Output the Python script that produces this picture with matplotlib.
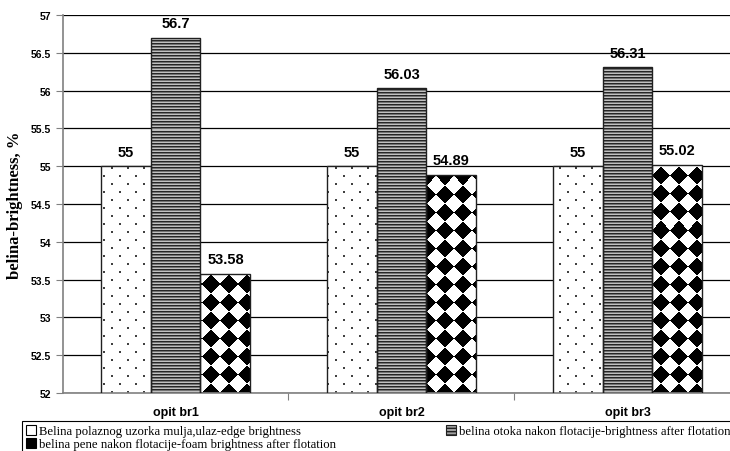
import numpy as np
import matplotlib
matplotlib.use("Agg")
import matplotlib.pyplot as plt
from matplotlib.patches import Patch

# data
categories = ["opit br1", "opit br2", "opit br3"]
belina_ulaz = [55, 55, 55]
belina_otoka = [56.7, 56.03, 56.31]
belina_pene = [53.58, 54.89, 55.02]
value_labels = [["55", "55", "55"],
                ["56.7", "56.03", "56.31"],
                ["53.58", "54.89", "55.02"]]
series_names = ["Belina polaznog uzorka mulja,ulaz-edge brightness",
                "belina otoka nakon flotacije-brightness after flotation",
                "belina pene nakon flotacije-foam brightness after flotation"]
yticks = [52, 52.5, 53, 53.5, 54, 54.5, 55, 55.5, 56, 56.5, 57]
ytick_labels = ["52", "52.5", "53", "53.5", "54", "54.5", "55", "55.5", "56", "56.5", "57"]

sans = "Liberation Sans"
serif = "Liberation Serif"

W, H = 730, 452
fig = plt.figure(figsize=(W / 100, H / 100), dpi=100)
ax_l, ax_b = 62.5, 58
ax_w, ax_h = 678, 378
ax = fig.add_axes([ax_l / W, ax_b / H, ax_w / W, ax_h / H])

ax.set_xlim(-0.5, 2.5)
ax.set_ylim(52, 57)

x = np.arange(len(categories))
bw = 0.221
all_series = [belina_ulaz, belina_otoka, belina_pene]

# textures in pixel space (patterns of the original Excel fills)
px_w, px_h = int(round(ax_w)), int(round(ax_h))
yy, xx = np.mgrid[0:px_h, 0:px_w]

# sparse staggered dots
dots = np.ones((px_h, px_w))
dmask = (xx % 8 < 2) & (yy % 8 < 2) & (((xx // 8) + (yy // 8)) % 2 == 0)
dots[dmask] = 0.25

# horizontal stripes
stripes = np.where(yy % 3 == 0, 0.15, np.where(yy % 3 == 1, 0.75, 0.45))

# diamond checker
d = 18.0
checker = ((np.floor((xx + yy + 4) / d) + np.floor((xx - yy + 4) / d)) % 2).astype(float)

textures = [dots, stripes, checker]

for i, vals in enumerate(all_series):
    bars = ax.bar(x + (i - 1) * bw, vals, width=bw, bottom=0,
                  facecolor="none", edgecolor="#202020", linewidth=1.0, zorder=3)
    for b in bars:
        im = ax.imshow(textures[i], extent=(-0.5, 2.5, 52, 57), origin="lower",
                       cmap="gray", vmin=0, vmax=1, interpolation="nearest",
                       aspect="auto", zorder=2)
        im.set_clip_path(b)
    for xi, v, lab in zip(x + (i - 1) * bw, vals, value_labels[i]):
        ax.text(xi, v + 0.1, lab, ha="center", va="bottom",
                fontsize=10.5, fontweight="bold", family=sans, zorder=4)

ax.set_xlim(-0.5, 2.5)
ax.set_ylim(52, 57)

# grid
ax.set_yticks(yticks)
ax.set_yticklabels(ytick_labels, fontsize=7.5, fontweight="bold", family=sans)
ax.yaxis.grid(True, color="black", linewidth=0.9)
ax.set_axisbelow(True)

ax.set_xticks([0.5, 1.5], minor=False)
ax.set_xticklabels([])
ax.tick_params(axis="x", direction="out", length=5, color="#808080")
ax.tick_params(axis="y", direction="out", length=5, color="#808080", pad=3)
for i, c in enumerate(categories):
    ax.text(i, -0.05, c, transform=ax.get_xaxis_transform(), ha="center", va="center",
            fontsize=9, fontweight="bold", family=sans)

for s in ["top", "right"]:
    ax.spines[s].set_visible(False)
for s in ["left", "bottom"]:
    ax.spines[s].set_color("#808080")
    ax.spines[s].set_linewidth(1.2)

fig.text(15 / W, 1 - 205 / H, "belina-brightness, %", rotation=90,
         ha="center", va="center", fontsize=12, fontweight="bold", family=serif)

handles = [Patch(facecolor="white", edgecolor="black", linewidth=0.8),
           Patch(facecolor="#a0a0a0", edgecolor="#202020", hatch="-----", linewidth=0.8),
           Patch(facecolor="black", edgecolor="black", linewidth=0.8)]
order = [0, 2, 1]  # legend fills by column, reference reads by row
leg = fig.legend([handles[k] for k in order], [series_names[k] for k in order],
                 loc="upper left", mode="expand",
                 bbox_to_anchor=(22 / W, 1 - 422 / H, 712 / W, 0), ncol=2, frameon=True,
                 fancybox=False, edgecolor="black", framealpha=1,
                 prop={"family": serif, "size": 9.2},
                 handlelength=0.8, handleheight=0.8, handletextpad=0.2,
                 borderpad=0.3, labelspacing=0.05,
                 borderaxespad=0)
leg.get_frame().set_linewidth(0.8)

fig.savefig("out.png", dpi=100)
